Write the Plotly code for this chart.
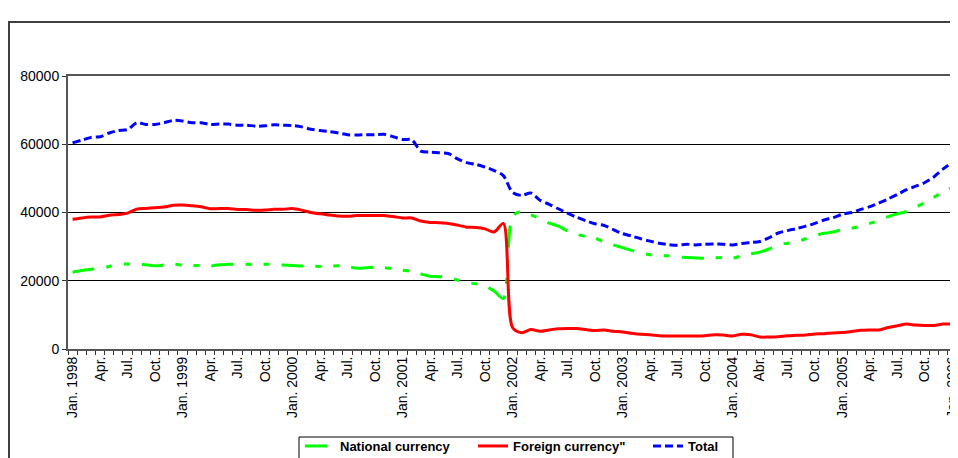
import plotly.graph_objects as go

# Monthly observations, Jan. 1998 .. Jan. 2006
months = list(range(97))

national = [22500, 23000, 23400, 23500, 24200, 24800, 24900, 24800, 24700, 24400, 24600, 24900,
            24600, 24400, 24500, 24300, 24700, 24800, 24800, 24800, 24800, 24850, 24800, 24600,
            24500, 24300, 24300, 24200, 24300, 24400, 24200, 23700, 23800, 24000, 23800, 23500,
            23100, 22700, 22000, 21300, 21200, 21000, 20200, 19400, 19100, 18500, 17000, 14800,
            38800, 40300, 39300, 38200, 36900, 36000, 34600, 33600, 33000, 32500, 31400, 30500,
            29700, 28900, 28200, 27600, 27400, 27300, 27000, 26800, 26700, 26600, 26700, 26800,
            26600, 27300, 27900, 28400, 29300, 30500, 31000, 31500, 32300, 33200, 33900, 34300,
            35000, 35400, 36000, 36800, 37700, 38800, 39600, 40300, 41600, 42900, 44500, 46000,
            47300]

foreign = [38000, 38400, 38700, 38700, 39200, 39400, 39800, 41000, 41200, 41400, 41600, 42100,
           42200, 42000, 41700, 41100, 41150, 41150, 40900, 40850, 40650, 40700, 40950, 40950,
           41200, 40700, 40000, 39600, 39300, 39000, 38900, 39100, 39150, 39150, 39100, 38800,
           38400, 38400, 37500, 37100, 37000, 36800, 36300, 35700, 35600, 35200, 34300, 36800,
           6300, 4800, 5700, 5200, 5600, 5900, 6000, 6000, 5700, 5400, 5600, 5200,
           5000, 4600, 4300, 4200, 3900, 3800, 3800, 3800, 3800, 3900, 4200, 4100,
           3800, 4300, 4200, 3500, 3500, 3600, 3900, 4000, 4100, 4400, 4500, 4700,
           4800, 5100, 5500, 5600, 5600, 6300, 6800, 7300, 7000, 6900, 6900, 7300,
           7300]

total = [60400, 61200, 62000, 62200, 63300, 64000, 64300, 66300, 65800, 65800, 66300, 67000,
         66800, 66300, 66300, 65800, 65900, 65900, 65600, 65600, 65300, 65400, 65700, 65600,
         65500, 65100, 64400, 64000, 63700, 63300, 62800, 62700, 62800, 62800, 62900, 62200,
         61400, 61300, 58000, 57700, 57500, 57300, 55700, 54600, 54100, 53300, 52300, 50800,
         45900, 45000, 45700, 43600, 42400, 41100, 39800, 38600, 37600, 36700, 36200, 35000,
         33800, 33100, 32300, 31600, 31000, 30600, 30400, 30700, 30500, 30700, 30800, 30700,
         30500, 30900, 31200, 31500, 32600, 34000, 34700, 35300, 36000, 36800, 37800, 38500,
         39500, 40000, 40900, 41700, 42800, 44000, 45300, 46700, 47700, 48800, 50500, 52800,
         54700]

tick_pos = list(range(0, 97, 3))
tick_labels = ["Jan. 1998", "Apr.", "Jul.", "Oct.",
               "Jan. 1999", "Apr.", "Jul.", "Oct.",
               "Jan. 2000", "Apr.", "Jul.", "Oct.",
               "Jan. 2001", "Apr.", "Jul.", "Oct.",
               "Jan. 2002", "Apr.", "Jul.", "Oct.",
               "Jan. 2003", "Apr.", "Jul.", "Oct.",
               "Jan. 2004", "Abr.", "Jul.", "Oct.",
               "Jan. 2005", "Apr.", "Jul.", "Oct.",
               "Jan. 2006"]

series_names = ["National currency", "Foreign currency\"", "Total"]

FONT = "Liberation Sans, Arial, sans-serif"

fig = go.Figure()
fig.add_trace(go.Scatter(x=months, y=national, name=series_names[0], mode="lines",
                         legendwidth=128,
                         line=dict(color="#00FF00", width=3, shape="spline", smoothing=0.8,
                                   dash="22px,12px,6px,12px,6px,12px")))
fig.add_trace(go.Scatter(x=months, y=foreign, name=series_names[1], mode="lines",
                         legendwidth=130,
                         line=dict(color="#FF0000", width=3, shape="spline", smoothing=0.8)))
fig.add_trace(go.Scatter(x=months, y=total, name=series_names[2], mode="lines",
                         line=dict(color="#0000FF", width=3, shape="spline", smoothing=0.8,
                                   dash="8px,4px")))

# the page body adds an 8px offset; work in page pixels and convert
OFF = 8
W, H = 958 - OFF, 458 - OFF
L = 68 - OFF
T = 76 - OFF
R = W - (957 - OFF)
B = H - (349 - OFF)
pw, ph = W - L - R, H - T - B

def px_x(x):
    return (x - OFF - L) / pw

def px_y(y):
    return (H - B - (y - OFF)) / ph

# outer chart-area frame (partially cropped in the reference)
fig.add_shape(type="rect", xref="paper", yref="paper",
              x0=px_x(9), x1=px_x(1000), y0=px_y(500), y1=px_y(22),
              line=dict(color="#404040", width=2), fillcolor="rgba(0,0,0,0)", layer="below")
# legend frame (cropped at the bottom in the reference)
fig.add_shape(type="rect", xref="paper", yref="paper",
              x0=px_x(299), x1=px_x(733), y0=px_y(480), y1=px_y(437),
              line=dict(color="black", width=1), fillcolor="white", layer="below")

fig.update_layout(
    width=W, height=H,
    margin=dict(l=L, r=R, t=T, b=B, autoexpand=False),
    paper_bgcolor="white", plot_bgcolor="white",
    font=dict(family=FONT, size=13, color="black"),
    showlegend=True,
    legend=dict(orientation="h", x=px_x(300), y=px_y(431), xanchor="left", yanchor="top",
                borderwidth=0, bgcolor="rgba(0,0,0,0)",
                font=dict(family=FONT, size=13, color="black", weight="bold"),
                itemwidth=30, tracegroupgap=0),
    xaxis=dict(range=[-0.5, 96.5], tickmode="array", tickvals=tick_pos, ticktext=tick_labels,
               tickangle=-90, ticks="", showgrid=False, zeroline=False,
               ticklabeloverflow="allow",
               showline=True, linecolor="#555555", linewidth=2, mirror=True,
               tickfont=dict(family=FONT, size=14, color="black"),
               minor=dict(tickmode="linear", tick0=-0.5, dtick=1, ticks="outside",
                          ticklen=4, tickcolor="#333333", tickwidth=1, showgrid=False)),
    yaxis=dict(range=[0, 80000], tickmode="linear", tick0=0, dtick=20000, tickformat="d",
               ticks="outside", ticklen=4, tickcolor="#333333",
               showgrid=True, gridcolor="black", gridwidth=1, zeroline=False,
               showline=True, linecolor="#555555", linewidth=2, mirror=True,
               tickfont=dict(family=FONT, size=14, color="black")),
)

fig.write_html("out.html")
